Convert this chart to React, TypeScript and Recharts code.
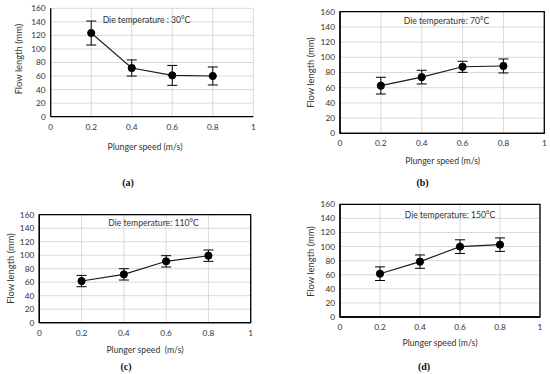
import React from 'react';
import { ComposedChart, Line, XAxis, YAxis, CartesianGrid, ErrorBar, ReferenceArea } from 'recharts';

// ---- data ----
const speeds = [0.2, 0.4, 0.6, 0.8];
const flowA = [123.5, 71.9, 61, 60.1];
const errA = [17.7, 11.9, 14.7, 13.3];
const flowB = [62.7, 73.9, 87.5, 88.6];
const errB = [11, 9, 7.3, 9.2];
const flowC = [61.7, 71.6, 90.9, 99.3];
const errC = [8.4, 8.4, 8.4, 8.4];
const flowD = [61.5, 78.6, 99.9, 102.7];
const errD = [9.7, 9.5, 9.7, 9.6];

const xTicks = [0, 0.2, 0.4, 0.6, 0.8, 1];
const yTicks = [0, 20, 40, 60, 80, 100, 120, 140, 160];

const tempLabels = ['Die temperature : 30°C', 'Die temperature: 70°C', 'Die temperature: 110°C', 'Die temperature: 150°C'];
const xTitles = ['Plunger speed (m/s)', 'Plunger speed (m/s)', 'Plunger speed  (m/s)', 'Plunger speed (m/s)'];
const yTitle = 'Flow length (mm)';
const panelLetters = ['(a)', '(b)', '(c)', '(d)'];

const flows = [flowA, flowB, flowC, flowD];
const errs = [errA, errB, errC, errD];

// ---- layout ----
const layouts = [
  { cx: 0, cy: 0, px0: 50.7, px1: 253.3, py0: 8.3, py1: 116.7, border: false, xt: [145, 146.7], yt: [18.3, 59], ann: [146.5, 20], let: [128, 182] },
  { cx: 275, cy: 0, px0: 340, px1: 544.3, py0: 11.7, py1: 133.3, border: true, xt: [442.7, 160], yt: [310, 72.5], ann: [446.5, 21], let: [422.5, 182] },
  { cx: 0, cy: 187, px0: 39.3, px1: 250.7, py0: 214.7, py1: 322.7, border: true, xt: [145, 349.3], yt: [10, 268.5], ann: [153.5, 223], let: [126, 366] },
  { cx: 275, cy: 187, px0: 340, px1: 540, py0: 204.3, py1: 317, border: true, xt: [440, 342.7], yt: [310, 261.5], ann: [450, 215], let: [424, 366] },
];

const CH = 160;
const CW = 275;
const YW = 20;
const XH = 20;
const FONT = 'Lato, "Open Sans", sans-serif';
const tickStyle = { fontSize: 8.3, fill: '#333', fontFamily: FONT };

function Panel({ i }: { i: number }) {
  const L = layouts[i];
  const data = speeds.map((s, k) => ({ speed: s, flow: flows[i][k], err: errs[i][k] }));
  const margin = {
    left: L.px0 - L.cx - YW,
    right: L.cx + CW - L.px1,
    top: L.py0 - L.cy,
    bottom: L.cy + CH - L.py1 - XH,
  };
  return (
    <div style={{ position: 'absolute', left: L.cx, top: L.cy, width: CW, height: CH }}>
      <ComposedChart width={CW} height={CH} data={data} margin={margin}>
        <CartesianGrid stroke="#d9d9d9" strokeWidth={1} />
        <XAxis
          dataKey="speed"
          type="number"
          domain={[0, 1]}
          ticks={xTicks}
          height={XH}
          tickLine={false}
          tickSize={5}
          tickMargin={2}
          axisLine={{ stroke: '#000', strokeWidth: 1.3 }}
          tick={tickStyle}
          allowDataOverflow
        />
        <YAxis
          type="number"
          domain={[0, 160]}
          ticks={yTicks}
          width={YW}
          tickLine={false}
          tickSize={3}
          tickMargin={2}
          axisLine={{ stroke: '#000', strokeWidth: 1.3 }}
          tick={tickStyle}
          interval={0}
          allowDataOverflow
        />
        {L.border && (
          <ReferenceArea x1={0} x2={1} y1={0} y2={160} fill="none" fillOpacity={0} stroke="#000" strokeWidth={1.3} />
        )}
        <Line
          type="linear"
          dataKey="flow"
          stroke="#1a1a1a"
          strokeWidth={1.1}
          dot={{ r: 3.6, fill: '#000', stroke: '#000', strokeWidth: 1 }}
          isAnimationActive={false}
        >
          <ErrorBar dataKey="err" width={5} stroke="#000" strokeWidth={1} direction="y" isAnimationActive={false} />
        </Line>
      </ComposedChart>
    </div>
  );
}

export default function App() {
  return (
    <div style={{ position: 'absolute', left: 0, top: 0, width: 550, height: 374, background: '#fff', overflow: 'hidden' }}>
      {layouts.map((_, i) => (
        <Panel key={i} i={i} />
      ))}
      <svg width={550} height={374} style={{ position: 'absolute', left: 0, top: 0, pointerEvents: 'none' }}>
        {layouts.map((L, i) => (
          <g key={i}>
            <text x={L.ann[0]} y={L.ann[1]} textAnchor="middle" dominantBaseline="central" fontSize={8.6} fill="#333" fontFamily={FONT}>
              {tempLabels[i]}
            </text>
            <text x={L.xt[0]} y={L.xt[1]} textAnchor="middle" dominantBaseline="central" fontSize={8.7} fill="#333" fontFamily={FONT} style={{ whiteSpace: 'pre' }}>
              {xTitles[i]}
            </text>
            <text
              x={L.yt[0]}
              y={L.yt[1]}
              textAnchor="middle"
              dominantBaseline="central"
              fontSize={9.4}
              fill="#333"
              fontFamily={FONT}
              transform={`rotate(-90 ${L.yt[0]} ${L.yt[1]})`}
            >
              {yTitle}
            </text>
            <text x={L.let[0]} y={L.let[1]} textAnchor="middle" dominantBaseline="central" fontSize={10} fontWeight="bold" fill="#111" fontFamily='"Liberation Serif", "DejaVu Serif", serif'>
              {panelLetters[i]}
            </text>
          </g>
        ))}
      </svg>
    </div>
  );
}
